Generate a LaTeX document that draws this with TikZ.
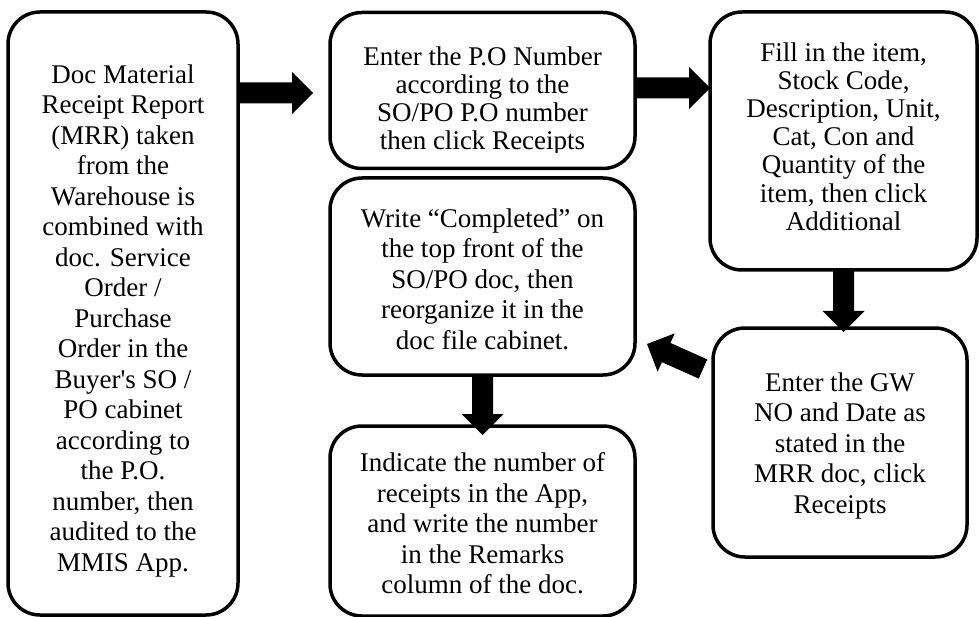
\documentclass[tikz,border=0pt]{standalone}
\usepackage{fontspec}
\setmainfont{Liberation Serif}
\usetikzlibrary{calc}

\tikzset{
  flowbox/.style={draw=black, line width=3.5pt, rounded corners=32pt,
    fill=white, inner sep=0pt, outer sep=0pt},
  flowtext/.style={align=center, inner sep=0pt,
    font=\fontsize{27}{30.5}\selectfont},
  tighttext/.style={flowtext, font=\fontsize{27}{28.2}\selectfont},
  blockfill/.style={fill=black}
}

% Thick block arrow: shaft of width 21 and a triangular head of width 42
% and length 21, from #1 to the tip at #2.
\newcommand\blockarrow[2]{%
  \path (#1) coordinate (ba-s) (#2) coordinate (ba-e);
  \path ($(ba-e)!21pt!(ba-s)$) coordinate (ba-h);
  \fill[blockfill] ($(ba-s)!10.5pt!90:(ba-e)$)
    -- ($(ba-h)!10.5pt!-90:(ba-s)$)
    -- ($(ba-h)!21pt!-90:(ba-s)$)
    -- (ba-e)
    -- ($(ba-h)!21pt!90:(ba-s)$)
    -- ($(ba-h)!10.5pt!90:(ba-s)$)
    -- ($(ba-s)!10.5pt!-90:(ba-e)$) -- cycle;}

\begin{document}
\begin{tikzpicture}[x=1pt,y=-1pt]
\useasboundingbox (0,0) rectangle (979,617);

% boxes
\node[flowbox, minimum width=230, minimum height=603] (b1) at (123,313.5) {};
\node[flowbox, minimum width=305, minimum height=156] (b2) at (482.5,90.5) {};
\node[flowbox, minimum width=305, minimum height=197] (b3) at (482.5,276.5) {};
\node[flowbox, minimum width=305, minimum height=190] (b4) at (482.5,521) {};
\node[flowbox, minimum width=267, minimum height=258] (b5) at (843.5,141) {};
\node[flowbox, minimum width=254, minimum height=229] (b6) at (840,442.5) {};

% texts
\node[flowtext] (t1) at ($(b1.center)+(0,7.5)$) {Doc Material\\Receipt Report\\(MRR) taken\\from the\\Warehouse is\\combined with\\doc. Service\\Order /\\Purchase\\Order in the\\Buyer\textquotesingle s SO /\\PO cabinet\\according to\\the P.O.\\number, then\\audited to the\\MMIS App.};
% the last line of this box is cut off by the lower border
\begin{scope}
  \clip ($(b2.north west)+(2,2)$) rectangle ($(b2.east |- 0,152.5)$);
  \node[tighttext] (t2) at ($(b2.center)+(0,10.5)$) {Enter the P.O Number\\according to the\\SO/PO P.O number\\then click Receipts};
\end{scope}
\node[flowtext] (t3) at ($(b3.center)+(0,2.5)$) {Write “Completed” on\\the top front of the\\SO/PO doc, then\\reorganize it in the\\doc file cabinet.};
\node[flowtext] (t4) at ($(b4.center)+(0,2.5)$) {Indicate the number of\\receipts in the App,\\and write the number\\in the Remarks\\column of the doc.};
\node[tighttext] (t5) at ($(b5.center)+(0,-4.5)$) {Fill in the item,\\Stock Code,\\Description, Unit,\\Cat, Con and\\Quantity of the\\item, then click\\Additional};
\node[flowtext] (t6) at ($(b6.center)+(0,3.5)$) {Enter the GW\\NO and Date as\\stated in the\\MRR doc, click\\Receipts};

% arrows
\blockarrow{$(b1.east |- b2.west)+(0,2.5)$}{$(b2.west)+(-17,2.5)$}
\blockarrow{$(b2.east)+(0,-2.5)$}{$(b5.west |- b2.east)+(0,-2.5)$}
\blockarrow{b5.south}{$(b5.south |- b6.north)+(0,4)$}
\blockarrow{$(b6.west)+(-10,-73.5)$}{$(b3.east)+(12,67.5)$}
\blockarrow{b3.south}{$(b4.north)+(0,9)$}
\end{tikzpicture}
\end{document}
